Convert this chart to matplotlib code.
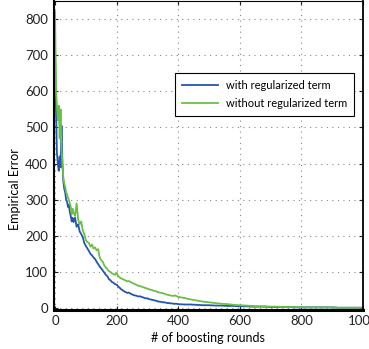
import matplotlib
matplotlib.use("Agg")
import matplotlib.pyplot as plt
import numpy as np

plt.rcParams['font.family'] = ['Lato', 'DejaVu Sans']

# boosting rounds sampled from the figure
rounds = list(range(0, 60, 3)) + list(range(60, 400, 5)) + list(range(400, 1001, 20))

err_with_reg = [
    # 0 .. 57 (step 3)
    720, 560, 430, 400, 380, 420, 390, 505, 400, 350,
    330, 320, 300, 295, 280, 285, 265, 255, 240, 250,
    # 60 .. 395 (step 5)
    238, 250, 225, 232, 212, 205, 196, 180, 172, 165,
    158, 150, 146, 140, 136, 128, 122, 115, 110, 104,
    98, 92, 88, 80, 77, 72, 70, 66, 65, 60,
    56, 52, 49, 46, 44, 42, 43, 40, 38, 36,
    35, 34, 32, 33, 31, 30, 28, 27, 27, 25,
    24, 23, 22, 21, 20, 18, 18, 17, 16, 16,
    15, 14, 14, 13, 13, 12, 12, 12,
    # 400 .. 1000 (step 20)
    11, 10, 10, 9, 8, 8, 7, 7, 6, 6,
    5, 5, 4, 4, 4, 3, 3, 3, 3, 2,
    2, 2, 2, 2, 2, 2, 1, 1, 1, 1, 1,
]

err_without_reg = [
    # 0 .. 57 (step 3)
    820, 600, 565, 520, 560, 470, 550, 440, 400, 360,
    345, 335, 320, 315, 305, 300, 290, 280, 260, 275,
    # 60 .. 395 (step 5)
    265, 255, 290, 245, 232, 240, 215, 205, 188, 183,
    180, 170, 176, 165, 168, 160, 163, 140, 132, 128,
    118, 112, 108, 102, 100, 96, 94, 92, 98, 88,
    85, 82, 80, 78, 76, 74, 75, 72, 70, 68,
    66, 64, 62, 61, 60, 58, 57, 55, 54, 52,
    51, 50, 48, 47, 46, 44, 43, 42, 41, 40,
    38, 37, 36, 35, 34, 34, 35, 33,
    # 400 .. 1000 (step 20)
    31, 28, 24, 21, 18, 16, 14, 12, 11, 9,
    8, 7, 6, 5, 5, 4, 4, 3, 3, 3,
    2, 2, 2, 2, 2, 2, 1, 1, 1, 1, 1,
]

labels = ["with regularized term", "without regularized term"]


def make_figure():
    fig = plt.figure(figsize=(3.69, 3.49), dpi=100)
    ax = fig.add_axes([0.145, 0.112, 0.839, 0.885])

    ax.plot(rounds, err_with_reg, color="#2356b0", lw=1.3, label=labels[0])
    ax.plot(rounds, err_without_reg, color="#6abf45", lw=1.3, label=labels[1])

    ax.set_xlim(-5, 1000)
    ax.set_ylim(-5, 850)
    ax.set_xticks(np.arange(0, 1001, 200))
    ax.set_yticks(np.arange(0, 801, 100))
    ax.tick_params(direction="in", length=3, labelsize=9.5, colors="#222222",
                   top=True, right=True, pad=4)

    ax.grid(True, linestyle=(0, (1, 4)), color="#888888", linewidth=0.8)
    ax.spines["top"].set_linewidth(0.8)
    ax.spines["right"].set_linewidth(1.3)
    ax.spines["left"].set_linewidth(1.5)
    ax.spines["bottom"].set_linewidth(2.2)

    ax.set_xlabel("# of boosting rounds", fontsize=9, labelpad=3)
    ax.set_ylabel("Empirical Error", fontsize=9)
    ax.yaxis.set_label_coords(-0.105, 0.39)

    leg = ax.legend(loc="upper right", bbox_to_anchor=(0.99, 0.785),
                    fontsize=8, fancybox=False, framealpha=1,
                    edgecolor="black", handlelength=3.25,
                    borderpad=0.65, labelspacing=0.6, handletextpad=0.7)
    leg.get_frame().set_linewidth(0.8)

    fig.savefig("out.png", dpi=100)


def main():
    make_figure()


if __name__ == "__main__":
    main()
